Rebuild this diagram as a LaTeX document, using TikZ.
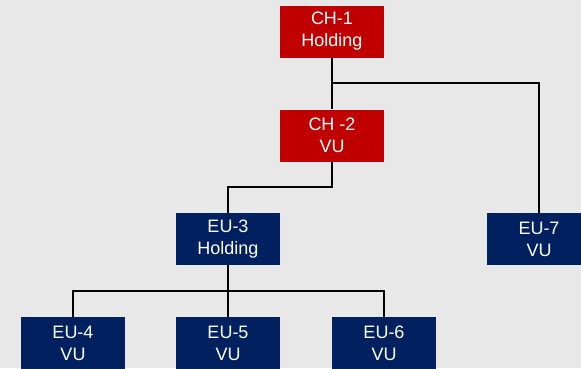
\documentclass[tikz,border=0pt]{standalone}
\usepackage{fontspec}
\setmainfont{Liberation Sans}
\definecolor{chred}{HTML}{C00000}
\definecolor{eunavy}{HTML}{002060}
\definecolor{bg}{HTML}{E8E8E8}
\begin{document}
\begin{tikzpicture}[x=1pt,y=-1pt,
  box/.style={minimum width=104pt,minimum height=52pt,inner sep=0pt,text=white,
    font=\fontsize{18}{22}\selectfont,align=center},
  redbox/.style={box,fill=chred},
  bluebox/.style={box,fill=eunavy},
  conn/.style={draw=black,line width=1.5pt}]
\path[use as bounding box,fill=bg] (0,0) rectangle (581,368);
\begin{scope}
\clip (0,0) rectangle (581,368);
\node[redbox] (ch1) at (332,31.5) {CH-1\\Holding};
\node[redbox] (ch2) at (332,135.5) {CH -2\\VU};
\node[bluebox] (eu3) at (228,239) {EU-3\\Holding};
\node[bluebox] (eu7) at (539,239) {EU-7\\VU};
\node[bluebox] (eu4) at (73,343) {EU-4\\VU};
\node[bluebox] (eu5) at (228,343) {EU-5\\VU};
\node[bluebox] (eu6) at (384,343) {EU-6\\VU};
\end{scope}
\coordinate (j1) at (332,83);
\coordinate (j2) at (332,187);
\coordinate (j3) at (228,291);
\draw[conn] (ch1.south) -- (ch2.north);
\draw[conn] (j1) -| (eu7.north);
\draw[conn] (ch2.south) -- (j2) -| (eu3.north);
\draw[conn] (eu3.south) -- (eu5.north);
\draw[conn] (j3) -| (eu4.north);
\draw[conn] (j3) -| (eu6.north);
\end{tikzpicture}
\end{document}
